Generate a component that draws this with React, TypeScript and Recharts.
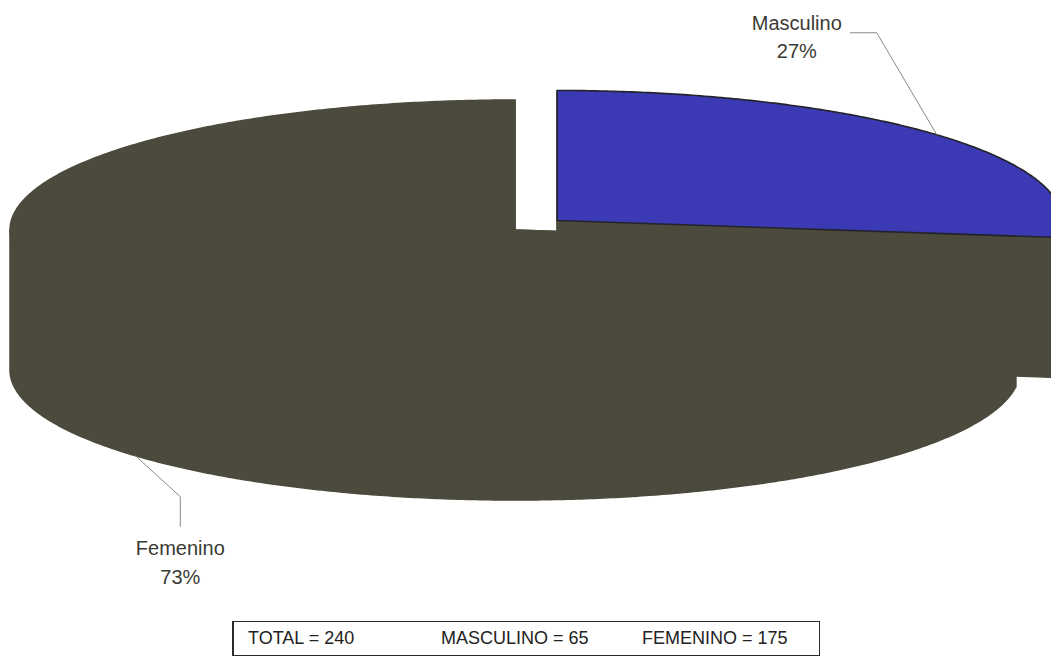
import React from 'react';
import { PieChart, Pie, Cell } from 'recharts';

// ---- data ----
const categories = ['Femenino', 'Masculino'];
const counts = [175, 65];
const summaryLabels = ['TOTAL', 'MASCULINO', 'FEMENINO'];

const data = categories.map((name, i) => ({ name, value: counts[i] }));
const total = counts.reduce((s, v) => s + v, 0);
const mascCount = counts[categories.indexOf('Masculino')];
const femCount = counts[categories.indexOf('Femenino')];

// ---- style ----
const TOP_COLORS: Record<string, string> = { Femenino: '#4b4a3d', Masculino: '#3b3ab4' };
const SIDE_COLOR = '#4b4a3d';
const EXPLODE: Record<string, number> = { Femenino: 0, Masculino: 56 };
const TILT = 130 / 505;
const DEPTH = 140;
const RAD = Math.PI / 180;
const FONT = '"Liberation Sans", Arial, sans-serif';

// Masculino starts at 12 o'clock, going clockwise
const START = 90 - (360 * mascCount) / total;
const END = START - 360;

const render3D = (p: any) => {
  const name: string = (p.payload && p.payload.name) || p.name;
  const R: number = p.outerRadius;
  const ry = R * TILT;
  const mid: number = p.midAngle;
  const off = EXPLODE[name] || 0;
  const X = p.cx + off * Math.cos(mid * RAD);
  const Y = p.cy - off * TILT * Math.sin(mid * RAD);
  const pt = (a: number, dy = 0): [number, number] => [
    X + R * Math.cos(a * RAD),
    Y - ry * Math.sin(a * RAD) + dy,
  ];
  const a0: number = p.startAngle;
  const a1: number = p.endAngle;
  const steps = Math.max(4, Math.ceil(Math.abs(a1 - a0) * 2));
  const angles: number[] = [];
  for (let i = 0; i <= steps; i++) angles.push(a0 + ((a1 - a0) * i) / steps);
  const lo = Math.min(a0, a1);
  const hi = Math.max(a0, a1);
  for (let k = Math.ceil(lo / 180); k <= Math.floor(hi / 180); k++) angles.push(k * 180);
  angles.sort((u, v) => (a1 < a0 ? v - u : u - v));

  const runs: number[][] = [];
  let cur: number[] = [];
  for (const a of angles) {
    if (Math.sin(a * RAD) <= 1e-6) cur.push(a);
    else {
      if (cur.length > 1) runs.push(cur);
      cur = [];
    }
  }
  if (cur.length > 1) runs.push(cur);

  const f = (q: [number, number]) => `${q[0].toFixed(2)},${q[1].toFixed(2)}`;
  const top =
    `M${f([X, Y])} ` + angles.map((a) => `L${f(pt(a))}`).join(' ') + ' Z';
  const walls = runs.map((r) => {
    const up = r.map((a) => f(pt(a)));
    const down = r.slice().reverse().map((a) => f(pt(a, DEPTH)));
    return `M${up.join(' L')} L${down.join(' L')} Z`;
  });
  const cuts = [a0, a1].map(
    (a) => `M${f([X, Y])} L${f(pt(a))} L${f(pt(a, DEPTH))} L${f([X, Y + DEPTH])} Z`
  );

  const upper = Math.sin(mid * RAD) > 0;
  const pct = `${Math.round(p.percent * 100)}%`;
  let leader: string;
  let tx: number;
  let ty1: number;
  let ty2: number;
  if (upper) {
    const A = pt(mid);
    const c: [number, number] = [A[0] - 60, A[1] - 102];
    leader = `M${f(A)} L${f(c)} L${f([c[0] - 27, c[1]])}`;
    tx = A[0] - 140;
    ty1 = c[1] - 10;
    ty2 = c[1] + 18;
  } else {
    const A = pt(mid, DEPTH);
    const c: [number, number] = [A[0] + 45, A[1] + 41];
    leader = `M${f(A)} L${f(c)} L${f([c[0], c[1] + 30])}`;
    tx = c[0];
    ty1 = c[1] + 51;
    ty2 = c[1] + 80;
  }

  const isMasc = name === 'Masculino';
  return (
    <g key={`slice-${name}`}>
      {cuts.map((d, i) => (
        <path key={`c${i}`} d={d} fill={SIDE_COLOR} stroke={SIDE_COLOR} strokeWidth={1.5} strokeLinejoin="round" />
      ))}
      {walls.map((d, i) => (
        <path key={`w${i}`} d={d} fill={SIDE_COLOR} stroke={SIDE_COLOR} strokeWidth={1.5} strokeLinejoin="round" />
      ))}
      <path
        d={top}
        fill={TOP_COLORS[name]}
        stroke={isMasc ? '#23232a' : TOP_COLORS[name]}
        strokeWidth={isMasc ? 1.6 : 1.5}
        strokeLinejoin="round"
      />
      <path d={leader} fill="none" stroke="#8a8a80" strokeWidth={1} />
      <text x={tx} y={ty1} textAnchor="middle" dominantBaseline="central" fontFamily={FONT} fontSize={20} fill="#3a3a34">
        {name}
      </text>
      <text x={tx} y={ty2} textAnchor="middle" dominantBaseline="central" fontFamily={FONT} fontSize={20} fill="#3a3a34">
        {pct}
      </text>
    </g>
  );
};

export default function App() {
  const summary = [total, mascCount, femCount];
  const summaryX = [14, 207, 408];
  return (
    <div
      style={{
        position: 'absolute',
        left: 0,
        top: 0,
        width: 1051,
        height: 670,
        background: '#ffffff',
        overflow: 'hidden',
      }}
    >
      <PieChart width={1051} height={670} margin={{ top: 0, right: 0, bottom: 0, left: 0 }}>
        <Pie
          data={data}
          dataKey="value"
          nameKey="name"
          cx={515}
          cy={230}
          innerRadius={0}
          outerRadius={505}
          startAngle={START}
          endAngle={END}
          stroke="none"
          isAnimationActive={false}
          labelLine={false}
          label={render3D}
        >
          {data.map((d) => (
            <Cell key={d.name} fill="transparent" stroke="none" />
          ))}
        </Pie>
      </PieChart>
      <div
        style={{
          position: 'absolute',
          left: 232,
          top: 621,
          width: 588,
          height: 35,
          boxSizing: 'border-box',
          border: '1px solid #2a2a2a',
          borderLeft: '2px solid #2a2a2a',
          fontFamily: FONT,
          fontSize: 18,
          color: '#222',
        }}
      >
        {summaryLabels.map((lab, i) => (
          <span
            key={lab}
            style={{ position: 'absolute', left: summaryX[i], top: 0, lineHeight: '33px', whiteSpace: 'nowrap' }}
          >
            {`${lab} = ${summary[i]}`}
          </span>
        ))}
      </div>
    </div>
  );
}
